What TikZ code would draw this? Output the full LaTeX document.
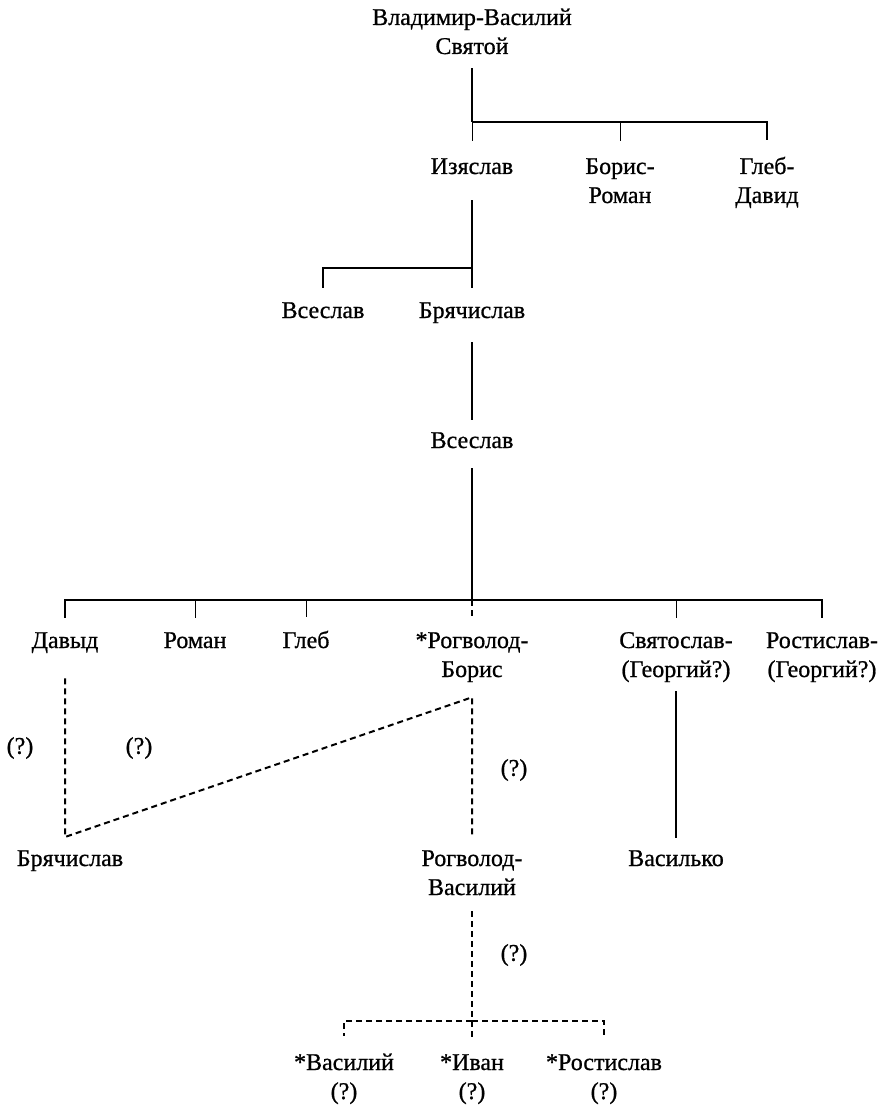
\documentclass[tikz,border=0pt]{standalone}
\usepackage{fontspec}
\setmainfont{Liberation Serif}
\newfontfamily\scanfont{Liberation Serif}[FakeBold=0.8]
\begin{document}
\begin{tikzpicture}[x=1pt,y=-1pt,
  person/.style={anchor=base,align=center,inner sep=0pt,font=\scanfont\fontsize{24}{29}\selectfont},
  query/.style={inner sep=0pt,font=\scanfont\fontsize{24}{29}\selectfont},
  kin/.style={line width=1.9pt},
  twig/.style={line width=1pt},
  maybe/.style={line width=2pt,dash pattern=on 6pt off 4pt}]
  \useasboundingbox (0,0) rectangle (881,1107);
  % people (base = last line)
  \node[person] (vladimir) at (472,54) {Владимир-Василий\\Святой};
  \node[person] (izyaslav) at (472,174) {Изяслав};
  \node[person] (boris) at (620,203) {Борис-\\Роман};
  \node[person] (gleb) at (767,203) {Глеб-\\Давид};
  \node[person] (vseslavA) at (323,318) {Всеслав};
  \node[person] (bryachislav) at (472,318) {Брячислав};
  \node[person] (vseslavB) at (472,448) {Всеслав};
  \node[person] (davyd) at (65,648) {Давыд};
  \node[person] (roman) at (195,648) {Роман};
  \node[person] (glebB) at (306,648) {Глеб};
  \node[person] (rogvolod) at (472,677) {*Рогволод-\\Борис};
  \node[person] (svyatoslav) at (676,677) {Святослав-\\(Георгий?)};
  \node[person] (rostislav) at (822,677) {Ростислав-\\(Георгий?)};
  \node[person] (bryachislavB) at (70,866) {Брячислав};
  \node[person] (rogvolodV) at (472,895) {Рогволод-\\Василий};
  \node[person] (vasilko) at (676,866) {Василько};
  \node[person] (vasiliy) at (344,1099) {*Василий\\(?)};
  \node[person] (ivan) at (472,1099) {*Иван\\(?)};
  \node[person] (rostislavB) at (604,1099) {*Ростислав\\(?)};
  % doubts
  \node[query] (qA) at (20,748) {(?)};
  \node[query] (qB) at (139,748) {(?)};
  \node[query] (qC) at (514,770) {(?)};
  \node[query] (qD) at (514,955) {(?)};
  % junctions
  \coordinate (g1) at (472,122);
  \coordinate (g2) at (472,268);
  \coordinate (g3) at (472,600);
  \coordinate (g4) at (472,1021);
  \coordinate (c1) at (65,837);
  \coordinate (rb) at ([yshift=-15pt]rogvolod.south);
  % Vladimir's sons
  \draw[kin,shorten <=14pt] (vladimir.south) -- (g1);
  \draw[kin,shorten >=17pt] (g1) -| (gleb.north);
  \draw[twig,shorten >=17pt] (g1) -- (izyaslav.north);
  \draw[twig,shorten >=17pt] (g1 -| boris) -- (boris.north);
  % Izyaslav's line
  \draw[kin,shorten <=26pt] (izyaslav.south) -- (g2);
  \draw[kin,shorten >=14pt] (g2) -| (vseslavA.north);
  \draw[kin,shorten >=14pt] (g2) -- (bryachislav.north);
  \draw[kin,shorten <=19pt,shorten >=12pt] (bryachislav.south) -- (vseslavB.north);
  % Vseslav's sons
  \draw[kin,shorten <=20pt] (vseslavB.south) -- (g3);
  \draw[kin,shorten >=14pt] (g3) -| (davyd.north);
  \draw[kin,shorten >=14pt] (g3) -| (rostislav.north);
  \draw[twig,shorten >=14pt] (g3 -| roman) -- (roman.north);
  \draw[twig,shorten >=14pt] (g3 -| glebB) -- (glebB.north);
  \draw[twig,shorten >=14pt] (g3 -| svyatoslav) -- (svyatoslav.north);
  \draw[maybe,shorten >=14pt] (g3) -- (rogvolod.north);
  % grandsons
  \draw[maybe,shorten <=25pt,shorten >=15pt] (davyd.south) -- (c1) -- (rb) -- (rogvolodV.north);
  \draw[kin,shorten <=9pt,shorten >=12pt] (svyatoslav.south) -- (vasilko.north);
  % Rogvolod-Vasiliy's sons
  \draw[maybe,shorten <=16pt] (rogvolodV.south) -- (g4);
  \draw[maybe,shorten >=17pt] (g4) -| (vasiliy.north);
  \draw[maybe,shorten >=17pt] (g4) -| (rostislavB.north);
  \draw[maybe,shorten >=14pt] (g4) -- (ivan.north);
\end{tikzpicture}
\end{document}
